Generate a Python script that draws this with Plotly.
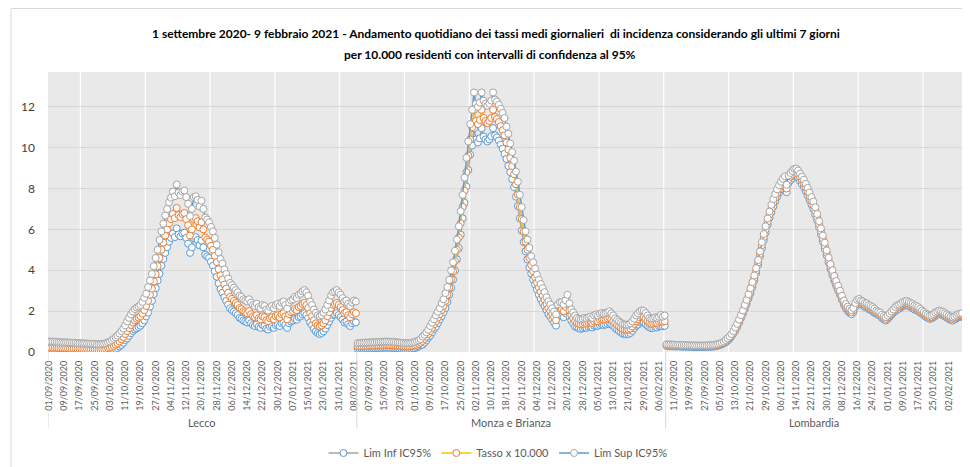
import pandas as pd
import plotly.graph_objects as go

# ---------------- data ----------------
groups = ["Lecco", "Monza e Brianza", "Lombardia"]
group_first_day = ["2020-09-01", "2020-09-01", "2020-09-07"]
last_day = "2021-02-09"

lecco_tasso = [0.22,0.21,0.21,0.20,0.20,0.19,0.19,0.18,0.18,0.18,
 0.17,0.17,0.16,0.16,0.16,0.15,0.15,0.15,0.14,0.14,
 0.13,0.13,0.12,0.12,0.12,0.11,0.11,0.11,0.12,0.13,
 0.15,0.18,0.21,0.25,0.30,0.36,0.43,0.52,0.62,0.74,
 0.88,1.02,1.17,1.32,1.45,1.55,1.62,1.68,1.75,1.88,
 2.05,2.25,2.50,2.80,3.10,3.45,3.80,4.20,4.60,5.00,
 5.35,5.70,6.00,6.30,6.50,6.75,6.55,7.05,6.70,6.60,
 6.75,6.80,6.50,6.20,5.70,6.00,6.50,6.55,6.40,6.10,
 6.35,6.00,5.60,5.50,5.40,5.20,5.00,4.70,4.40,4.05,
 3.75,3.55,3.30,3.10,2.90,2.70,2.60,2.50,2.40,2.30,
 2.15,2.10,2.00,1.95,1.90,2.00,1.85,1.75,1.70,1.80,
 1.65,1.60,1.75,1.70,1.55,1.50,1.65,1.70,1.60,1.75,
 1.80,1.70,1.85,1.90,1.75,1.60,1.85,1.95,2.00,2.10,
 2.05,2.20,2.25,2.35,2.40,2.30,2.15,1.90,1.75,1.55,
 1.40,1.30,1.25,1.30,1.40,1.55,1.75,1.95,2.15,2.30,
 2.35,2.40,2.30,2.20,2.05,1.90,1.95,1.80,1.70,1.85,
 1.95,1.90]
lecco_sup = [0.52,0.51,0.51,0.50,0.50,0.48,0.48,0.47,0.47,0.47,
 0.46,0.46,0.45,0.45,0.45,0.43,0.43,0.43,0.42,0.42,
 0.41,0.41,0.40,0.40,0.40,0.38,0.38,0.38,0.40,0.41,
 0.43,0.47,0.51,0.58,0.65,0.72,0.80,0.90,1.02,1.15,
 1.30,1.50,1.67,1.84,1.98,2.10,2.17,2.23,2.30,2.45,
 2.65,2.85,3.18,3.50,3.82,4.20,4.60,5.00,5.48,5.90,
 6.28,6.68,7.00,7.32,7.55,7.85,7.62,8.20,7.80,7.68,
 7.85,7.90,7.58,7.25,6.65,7.00,7.58,7.62,7.45,7.12,
 7.40,7.00,6.58,6.48,6.35,6.12,5.90,5.58,5.25,4.88,
 4.55,4.33,4.05,3.82,3.60,3.38,3.28,3.15,3.03,2.92,
 2.76,2.70,2.58,2.52,2.47,2.58,2.42,2.30,2.25,2.36,
 2.20,2.14,2.30,2.25,2.08,2.03,2.20,2.25,2.14,2.30,
 2.36,2.25,2.42,2.47,2.30,2.14,2.42,2.52,2.58,2.70,
 2.64,2.80,2.85,2.97,3.03,2.92,2.76,2.47,2.30,2.08,
 1.92,1.80,1.75,1.80,1.92,2.08,2.30,2.52,2.76,2.92,
 2.97,3.03,2.92,2.80,2.64,2.47,2.52,2.36,2.25,2.42,
 2.52,2.47]
lecco_inf = [0.07,0.06,0.06,0.05,0.05,0.05,0.05,0.04,0.04,0.04,
 0.04,0.04,0.03,0.03,0.03,0.03,0.03,0.03,0.02,0.02,
 0.02,0.02,0.02,0.02,0.02,0.01,0.01,0.01,0.02,0.02,
 0.03,0.04,0.06,0.09,0.11,0.15,0.20,0.27,0.35,0.45,
 0.58,0.66,0.79,0.92,1.03,1.10,1.16,1.22,1.29,1.40,
 1.55,1.74,1.93,2.22,2.50,2.83,3.12,3.50,3.83,4.22,
 4.55,4.85,5.12,5.40,5.58,5.80,5.62,6.05,5.75,5.66,
 5.80,5.84,5.58,5.30,4.85,5.12,5.58,5.62,5.48,5.22,
 5.45,5.12,4.76,4.68,4.60,4.42,4.22,3.95,3.68,3.36,
 3.08,2.90,2.68,2.50,2.32,2.14,2.05,1.98,1.90,1.81,
 1.67,1.62,1.54,1.49,1.45,1.54,1.41,1.32,1.27,1.36,
 1.23,1.18,1.32,1.27,1.14,1.10,1.23,1.27,1.18,1.32,
 1.36,1.27,1.41,1.45,1.32,1.18,1.41,1.49,1.54,1.62,
 1.58,1.71,1.75,1.84,1.90,1.81,1.67,1.45,1.32,1.14,
 1.01,0.93,0.88,0.93,1.01,1.14,1.32,1.49,1.67,1.81,
 1.84,1.90,1.81,1.71,1.58,1.45,1.49,1.36,1.27,1.41,
 1.49,1.45]

monza_tasso = [0.27,0.27,0.28,0.28,0.29,0.29,0.30,0.30,0.31,0.31,
 0.32,0.32,0.33,0.33,0.34,0.34,0.34,0.33,0.33,0.32,
 0.31,0.30,0.29,0.28,0.27,0.26,0.26,0.27,0.28,0.30,
 0.32,0.36,0.40,0.46,0.54,0.64,0.75,0.88,1.02,1.18,
 1.35,1.50,1.68,1.85,2.05,2.25,2.50,2.80,3.15,3.55,
 3.95,4.45,5.00,5.60,6.30,7.10,7.90,8.80,9.60,10.40,
 11.00,11.85,11.30,11.15,11.35,11.85,11.45,11.30,11.20,11.30,
 11.45,11.85,11.50,11.40,11.25,11.05,10.85,10.60,10.25,9.90,
 9.50,9.10,8.70,8.20,7.70,7.10,6.50,5.90,5.40,5.00,
 4.60,4.25,3.95,3.65,3.40,3.15,2.95,2.75,2.55,2.35,
 2.15,2.00,1.85,1.70,1.55,2.00,2.10,2.10,2.00,2.20,
 2.45,2.05,1.80,1.65,1.50,1.42,1.38,1.35,1.38,1.42,
 1.40,1.45,1.48,1.42,1.50,1.55,1.50,1.58,1.62,1.58,
 1.60,1.65,1.70,1.60,1.50,1.40,1.32,1.25,1.18,1.12,
 1.10,1.08,1.10,1.15,1.25,1.38,1.50,1.60,1.70,1.75,
 1.72,1.62,1.50,1.42,1.38,1.40,1.45,1.42,1.48,1.52,
 1.48,1.50]
monza_sup = [0.44,0.44,0.45,0.45,0.46,0.46,0.47,0.47,0.48,0.48,
 0.49,0.49,0.50,0.50,0.51,0.51,0.51,0.50,0.50,0.49,
 0.48,0.47,0.46,0.45,0.44,0.43,0.43,0.44,0.45,0.47,
 0.49,0.53,0.57,0.63,0.75,0.85,0.96,1.09,1.27,1.43,
 1.60,1.79,1.97,2.14,2.38,2.58,2.88,3.18,3.53,3.99,
 4.39,4.95,5.50,6.15,6.89,7.69,8.53,9.50,10.30,11.15,
 11.85,12.70,12.15,12.00,12.20,12.70,12.30,12.15,12.05,12.15,
 12.30,12.70,12.35,12.25,12.10,11.90,11.70,11.45,11.03,10.68,
 10.20,9.78,9.36,8.83,8.33,7.69,7.09,6.45,5.90,5.50,
 5.10,4.69,4.39,4.09,3.78,3.53,3.33,3.13,2.93,2.68,
 2.48,2.33,2.14,1.99,1.84,2.33,2.43,2.43,2.33,2.53,
 2.80,2.38,2.09,1.94,1.79,1.67,1.63,1.60,1.63,1.67,
 1.65,1.70,1.73,1.67,1.79,1.84,1.79,1.87,1.91,1.87,
 1.89,1.94,1.99,1.89,1.79,1.65,1.57,1.50,1.43,1.37,
 1.35,1.33,1.35,1.40,1.50,1.63,1.79,1.89,1.99,2.04,
 2.01,1.91,1.79,1.67,1.63,1.65,1.70,1.67,1.73,1.81,
 1.73,1.79]
monza_inf = [0.14,0.14,0.15,0.15,0.16,0.16,0.17,0.17,0.18,0.18,
 0.19,0.19,0.20,0.20,0.21,0.21,0.21,0.20,0.20,0.19,
 0.18,0.17,0.16,0.15,0.14,0.13,0.13,0.14,0.15,0.17,
 0.19,0.23,0.27,0.33,0.36,0.46,0.57,0.70,0.80,0.96,
 1.13,1.24,1.42,1.59,1.75,1.95,2.15,2.45,2.80,3.14,
 3.54,3.98,4.53,5.08,5.74,6.54,7.30,8.10,8.90,9.65,
 10.10,10.95,10.40,10.25,10.45,10.95,10.55,10.40,10.30,10.40,
 10.55,10.95,10.60,10.50,10.35,10.15,9.95,9.70,9.45,9.10,
 8.80,8.45,8.07,7.60,7.14,6.54,5.94,5.38,4.93,4.53,
 4.13,3.84,3.54,3.30,3.05,2.80,2.60,2.40,2.25,2.05,
 1.85,1.74,1.59,1.44,1.29,1.72,1.81,1.80,1.70,1.90,
 2.14,1.75,1.54,1.39,1.24,1.20,1.16,1.13,1.16,1.20,
 1.18,1.23,1.26,1.20,1.28,1.29,1.28,1.32,1.36,1.32,
 1.34,1.39,1.44,1.34,1.28,1.18,1.10,1.03,0.96,0.90,
 0.88,0.86,0.88,0.93,1.03,1.16,1.28,1.34,1.44,1.49,
 1.46,1.36,1.28,1.20,1.16,1.18,1.23,1.20,1.26,1.26,
 1.26,1.28]

lomb_tasso = [0.34,0.33,0.33,0.32,0.32,0.31,0.31,0.31,0.30,0.30,
 0.30,0.29,0.29,0.29,0.28,0.28,0.28,0.28,0.28,0.28,
 0.28,0.28,0.29,0.29,0.30,0.31,0.33,0.35,0.38,0.42,
 0.47,0.53,0.61,0.70,0.82,0.96,1.12,1.30,1.50,1.72,
 1.95,2.20,2.45,2.72,3.00,3.30,3.62,3.98,4.38,4.80,
 5.22,5.62,6.00,6.38,6.72,7.02,7.30,7.55,7.78,7.98,
 8.15,8.30,8.42,8.00,8.45,8.58,8.68,8.78,8.80,8.70,
 8.55,8.40,8.25,8.05,7.85,7.62,7.40,7.18,6.90,6.60,
 6.25,5.90,5.55,5.20,4.85,4.50,4.18,3.88,3.60,3.35,
 3.12,2.90,2.65,2.42,2.25,2.12,2.02,1.95,2.05,2.30,
 2.45,2.50,2.42,2.38,2.30,2.28,2.20,2.15,2.10,2.02,
 1.95,1.90,1.85,1.75,1.68,1.62,1.70,1.80,1.90,2.00,
 2.10,2.18,2.22,2.28,2.35,2.38,2.40,2.35,2.30,2.25,
 2.18,2.15,2.10,2.02,1.95,1.88,1.80,1.75,1.70,1.72,
 1.78,1.85,1.90,1.95,1.92,1.88,1.82,1.76,1.70,1.65,
 1.62,1.66,1.72,1.78,1.80,1.82]
lomb_sup = [0.38,0.37,0.37,0.36,0.36,0.35,0.35,0.35,0.34,0.34,
 0.34,0.33,0.33,0.33,0.32,0.32,0.32,0.32,0.32,0.32,
 0.32,0.32,0.33,0.33,0.34,0.35,0.37,0.39,0.42,0.46,
 0.51,0.59,0.67,0.76,0.88,1.02,1.20,1.38,1.58,1.80,
 2.03,2.30,2.55,2.82,3.12,3.42,3.74,4.10,4.50,4.92,
 5.37,5.77,6.15,6.53,6.87,7.20,7.48,7.73,7.96,8.16,
 8.33,8.48,8.60,8.18,8.63,8.76,8.86,8.96,8.98,8.88,
 8.73,8.58,8.43,8.23,8.03,7.80,7.58,7.36,7.08,6.75,
 6.40,6.05,5.70,5.35,4.97,4.62,4.30,4.00,3.72,3.47,
 3.24,3.00,2.75,2.52,2.35,2.22,2.12,2.05,2.15,2.40,
 2.55,2.60,2.52,2.48,2.40,2.38,2.30,2.25,2.20,2.12,
 2.03,1.98,1.93,1.83,1.76,1.70,1.78,1.88,1.98,2.08,
 2.20,2.28,2.32,2.38,2.45,2.48,2.50,2.45,2.40,2.35,
 2.28,2.25,2.20,2.12,2.03,1.96,1.88,1.83,1.78,1.80,
 1.86,1.93,1.98,2.03,2.00,1.96,1.90,1.84,1.78,1.73,
 1.70,1.74,1.80,1.86,1.88,1.90]
lomb_inf = [0.30,0.29,0.29,0.28,0.28,0.27,0.27,0.27,0.26,0.26,
 0.26,0.25,0.25,0.25,0.24,0.24,0.24,0.24,0.24,0.24,
 0.24,0.24,0.25,0.25,0.26,0.27,0.29,0.31,0.34,0.38,
 0.43,0.47,0.55,0.64,0.76,0.90,1.04,1.22,1.42,1.64,
 1.87,2.10,2.35,2.62,2.88,3.18,3.50,3.86,4.26,4.68,
 5.07,5.47,5.85,6.23,6.57,6.84,7.12,7.37,7.60,7.80,
 7.97,8.12,8.24,7.82,8.27,8.40,8.50,8.60,8.62,8.52,
 8.37,8.22,8.07,7.87,7.67,7.44,7.22,7.00,6.72,6.45,
 6.10,5.75,5.40,5.05,4.73,4.38,4.06,3.76,3.48,3.23,
 3.00,2.80,2.55,2.32,2.15,2.02,1.92,1.85,1.95,2.20,
 2.35,2.40,2.32,2.28,2.20,2.18,2.10,2.05,2.00,1.92,
 1.87,1.82,1.77,1.67,1.60,1.54,1.62,1.72,1.82,1.92,
 2.00,2.08,2.12,2.18,2.25,2.28,2.30,2.25,2.20,2.15,
 2.08,2.05,2.00,1.92,1.87,1.80,1.72,1.67,1.62,1.64,
 1.70,1.77,1.82,1.87,1.84,1.80,1.74,1.68,1.62,1.57,
 1.54,1.58,1.64,1.70,1.72,1.74]

y_ticks = [0, 2, 4, 6, 8, 10, 12]
series_names = ["Lim Inf IC95%", "Tasso x 10.000", "Lim Sup IC95%"]

panel_inf = [lecco_inf, monza_inf, lomb_inf]
panel_tasso = [lecco_tasso, monza_tasso, lomb_tasso]
panel_sup = [lecco_sup, monza_sup, lomb_sup]

# ---------------- build category positions ----------------
xs, yinf, ytas, ysup = [], [], [], []
labels = []
starts, ends = [], []
pos = 0
for g, first in enumerate(group_first_day):
    dates = pd.date_range(first, last_day, freq="D")
    n = len(dates)
    assert n == len(panel_tasso[g]) == len(panel_inf[g]) == len(panel_sup[g]), (g, n)
    starts.append(pos)
    idx = list(range(pos, pos + n))
    if g > 0:
        xs.append(None); yinf.append(None); ytas.append(None); ysup.append(None)
    xs += idx
    yinf += panel_inf[g]
    ytas += panel_tasso[g]
    ysup += panel_sup[g]
    labels += [d.strftime("%d/%m/%Y") for d in dates]
    pos += n
    ends.append(pos)
N = pos

tickvals = list(range(0, N, 8))
ticktext = [labels[i] for i in tickvals]

FONT = "Lato, Liberation Sans, sans-serif"
GREY_TXT = "#595959"

# page offset (default body margin of the html page)
OFF = 8
FIG_W, FIG_H = 970 - OFF, 467 - OFF
# plot-area geometry in page pixels
L, R, T, B = 48, 963, 72, 352
W_PA, H_PA = R - L, B - T

def px_x(x):
    return (x - L) / W_PA

def px_y(y):
    return (B - y) / H_PA

fig = go.Figure()
styles = [
    dict(line_color="#A5A5A5", mk_line="#5B9BD5"),
    dict(line_color="#FFC000", mk_line="#ED7D31"),
    dict(line_color="#5B9BD5", mk_line="#A5A5A5"),
]
for name, ys, st in zip(series_names, [yinf, ytas, ysup], styles):
    fig.add_trace(go.Scatter(
        x=xs, y=ys, name=name, mode="lines+markers",
        line=dict(color=st["line_color"], width=1.5),
        marker=dict(symbol="circle", size=7, color="white",
                    line=dict(color=st["mk_line"], width=1)),
        connectgaps=False,
    ))

shapes = []
# vertical white gridlines
k = 16.5
while k < N:
    shapes.append(dict(type="line", xref="x", yref="paper", x0=k, x1=k, y0=0, y1=1,
                       line=dict(color="white", width=1.2), layer="between"))
    k += 34
# group separators under the axis
for b in [-0.5] + [e - 0.5 for e in ends]:
    shapes.append(dict(type="line", xref="x", yref="paper", x0=b, x1=b, y0=0, y1=px_y(428),
                       line=dict(color="#D9D9D9", width=1)))
# outer frame
shapes.append(dict(type="rect", xref="paper", yref="paper",
                   x0=px_x(11), x1=px_x(969), y0=px_y(475), y1=px_y(8.5),
                   line=dict(color="#D9D9D9", width=1), fillcolor="rgba(0,0,0,0)", layer="below"))

annotations = []
for g, name in enumerate(groups):
    annotations.append(dict(x=(starts[g] + ends[g] - 1) / 2, xref="x", y=px_y(422), yref="paper",
                            yanchor="middle", text=name, showarrow=False,
                            font=dict(family=FONT, size=11, color=GREY_TXT)))
title1 = "1 settembre 2020- 9 febbraio 2021 - Andamento quotidiano dei tassi medi giornalieri  di incidenza considerando gli ultimi 7 giorni"
title2 = "per 10.000 residenti con intervalli di confidenza al 95%"
annotations.append(dict(x=px_x(496), xref="paper", y=px_y(33), yref="paper",
                        xanchor="center", yanchor="middle",
                        text="<b>" + title1 + "</b>", showarrow=False,
                        font=dict(family=FONT, size=12, color="#000000")))
annotations.append(dict(x=px_x(490), xref="paper", y=px_y(54), yref="paper",
                        xanchor="center", yanchor="middle",
                        text="<b>" + title2 + "</b>", showarrow=False,
                        font=dict(family=FONT, size=12, color="#000000")))

fig.update_layout(
    width=FIG_W, height=FIG_H,
    margin=dict(l=L - OFF, r=970 - R, t=T - OFF, b=467 - B, autoexpand=False),
    paper_bgcolor="white", plot_bgcolor="#E9E9E9",
    showlegend=True,
    legend=dict(orientation="h", x=px_x(498), xanchor="center",
                y=px_y(453), yanchor="middle",
                font=dict(family=FONT, size=11, color=GREY_TXT),
                bgcolor="rgba(0,0,0,0)", itemwidth=30),
    shapes=shapes, annotations=annotations,
    xaxis=dict(range=[-0.5, N - 0.5], tickmode="array", tickvals=tickvals, ticktext=ticktext,
               tickangle=-90, showgrid=False, zeroline=False, showline=False, ticks="",
               ticklabelstandoff=6, automargin=False,
               tickfont=dict(family=FONT, size=9, color=GREY_TXT)),
    yaxis=dict(range=[0, 13.7], tickvals=y_ticks, showgrid=True, gridcolor="#D7D7D7",
               gridwidth=1, zeroline=False, showline=False, ticks="",
               ticklabelstandoff=12, automargin=False,
               tickfont=dict(family="Lato, Liberation Sans, sans-serif", size=12, color="#404040")),
)

fig.write_html("out.html")
